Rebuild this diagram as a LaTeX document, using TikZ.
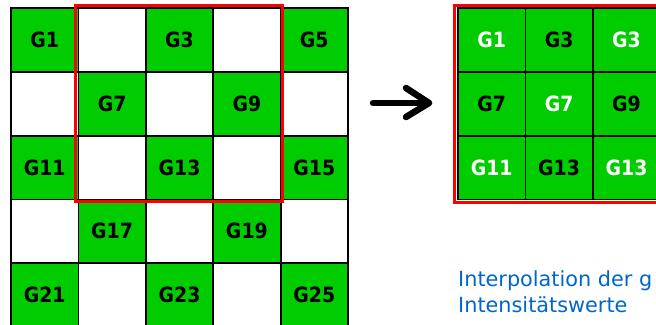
\documentclass[tikz,border=0pt]{standalone}
\usepackage{fontspec}
\newfontfamily\labfont[FakeStretch=0.9]{DejaVu Sans}
\newfontfamily\txtfont{DejaVu Sans}
\definecolor{cellgreen}{RGB}{0,204,0}
\definecolor{txtblue}{RGB}{0,102,204}
\definecolor{framered}{RGB}{255,0,0}
\begin{document}
\begin{tikzpicture}[x=1pt,y=-1pt,
  cell/.style={draw=black, line width=1.8pt, minimum width=67.4pt, minimum height=63.8pt,
    inner sep=0pt, outer sep=0pt, anchor=north west,
    font=\labfont\bfseries\fontsize{21}{21}\selectfont},
  gcell/.style={cell, fill=cellgreen},
  wcell/.style={cell, fill=white},
  redframe/.style={draw=framered, line width=3pt, inner sep=0pt, outer sep=0pt, anchor=north west},
  bigarrow/.style={line width=6.5pt, line cap=round, line join=round, draw=black},
  note/.style={font=\txtfont\fontsize{20.8}{26}\selectfont, text=txtblue, inner sep=0pt, anchor=base west}]
\useasboundingbox (0,0) rectangle (656,324);
\clip (0,0) rectangle (656,324);
\fill[white] (0,0) rectangle (656,324);
% left grid
\foreach \r in {1,...,5}{
  \foreach \c in {1,...,5}{
    \pgfmathtruncatemacro{\cellnum}{(\r-1)*5+\c}
    \pgfmathtruncatemacro{\parity}{mod(\r+\c,2)}
    \pgfmathsetmacro{\xx}{11+(\c-1)*67.4}
    \pgfmathsetmacro{\yy}{8+(\r-1)*63.8}
    \ifnum\parity=0
      \node[gcell] (L-\r-\c) at (\xx,\yy) {G\cellnum};
    \else
      \node[wcell] (L-\r-\c) at (\xx,\yy) {};
    \fi
  }
}
\node[redframe, minimum width=207.5pt, minimum height=195.5pt] (selL) at (75,5.5) {};
% right grid
\node[redframe, minimum width=215pt, minimum height=196.5pt] (selR) at (454.5,5.5) {};
\foreach \r/\c/\t/\col in {1/1/G1/white, 1/2/G3/black, 1/3/G3/white,
                           2/1/G7/black, 2/2/G7/white, 2/3/G9/black,
                           3/1/G11/white, 3/2/G13/black, 3/3/G13/white}{
  \pgfmathsetmacro{\xx}{458+(\c-1)*67.4}
  \pgfmathsetmacro{\yy}{8+(\r-1)*63.8}
  \node[gcell, text=\col] (R-\r-\c) at (\xx,\yy) {\t};
}
% arrow
\coordinate (a0) at (373,103);
\coordinate (a1) at (429,103);
\coordinate (a2) at (406,88);
\coordinate (a3) at (406,117);
\draw[bigarrow] (a0) -- (a1);
\draw[bigarrow] (a2) -- (a1) -- (a3);
% text
\node[note] (t1) at (458,286) {Interpolation der g};
\node[note] (t2) at (458,312) {Intensitätswerte};
\end{tikzpicture}
\end{document}
